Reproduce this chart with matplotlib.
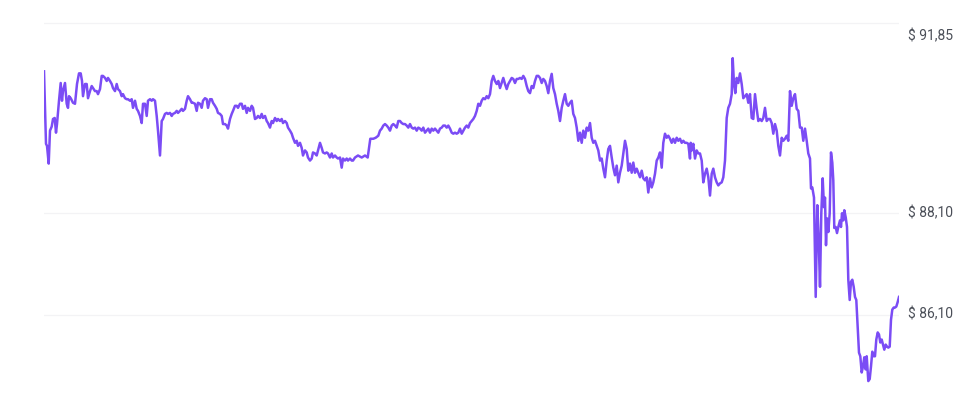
import matplotlib
matplotlib.use("Agg")
import matplotlib.pyplot as plt
import matplotlib.transforms as mtransforms
import numpy as np

# sample times (arbitrary session units) and prices, split into segments
t1 = [0, 2, 3, 4.7, 6, 7.7, 9, 10.7, 12, 13, 15, 16.7, 18, 19, 21, 22.7, 24, 25, 26.7, 28,
      29, 31, 33, 35, 36.7, 38, 39, 41, 42.7, 44, 46, 47.7, 49, 51, 52.7, 54, 56, 57.7, 59, 61,
      62.7, 64, 66, 67.7, 69, 71, 72.7, 74, 76, 77.7, 79, 81, 82.7, 84, 86, 87.7, 89, 91, 92.7, 94,
      96, 97.7, 99]
p1 = [90.90, 89.47, 89.43, 89.08, 89.73, 89.81, 89.96, 89.98, 89.69, 89.86,
      90.32, 90.67, 90.32, 90.51, 90.67, 90.26, 90.18, 90.41, 90.37, 90.32,
      90.28, 90.26, 90.65, 90.86, 90.86, 90.71, 90.41, 90.65, 90.65, 90.37,
      90.51, 90.61, 90.57, 90.51, 90.51, 90.45, 90.55, 90.81, 90.81, 90.77,
      90.71, 90.77, 90.71, 90.65, 90.57, 90.51, 90.65, 90.55, 90.51, 90.41,
      90.45, 90.37, 90.35, 90.35, 90.32, 90.35, 90.18, 90.32, 90.16, 90.12,
      90.02, 89.88, 90.26]

t2 = [101, 102.7, 104, 106, 107.7, 109, 111, 112.7, 114, 116, 117.7, 119, 121, 122.7, 124, 126,
      127.7, 129, 131, 132.7, 134, 136, 137.7, 139, 141, 142.7, 144, 146, 147.7, 149, 151, 152.7,
      154, 156, 157.7, 159, 161, 162.7, 164, 166, 167.7, 169, 171, 172.7, 174, 176, 177.7, 179,
      181, 182.7, 184, 186, 187.7, 189, 191, 192.7, 194, 196, 197.7, 199, 201, 202.7, 204]
p2 = [90.26, 90.02, 90.32, 90.35, 90.32, 90.35, 90.32, 90.02, 89.73, 89.24,
      89.92, 89.96, 90.06, 90.08, 90.06, 90.08, 90.02, 90.06, 90.08, 90.12,
      90.08, 90.12, 90.16, 90.12, 90.16, 90.32, 90.41, 90.35, 90.28, 90.28,
      90.26, 90.12, 90.28, 90.26, 90.18, 90.32, 90.37, 90.35, 90.18, 90.35,
      90.35, 90.28, 90.22, 90.16, 90.08, 90.06, 90.02, 89.86, 89.86, 89.83,
      89.77, 89.96, 90.06, 90.12, 90.22, 90.22, 90.18, 90.26, 90.26, 90.16,
      90.22, 90.08, 90.18]

t3 = [206, 207.7, 209, 211, 212.7, 214, 216, 217.7, 219, 221, 222.7, 224, 226, 227.7, 229, 231,
      232.7, 234, 236, 237.7, 239, 241, 242.7, 244, 246, 247.7, 249, 251, 252.7, 254, 256, 257.7,
      259, 261, 262.7, 264, 266, 267.7, 269, 271, 272.7, 274, 276, 277.7, 279, 281, 282.7, 284,
      286, 287.7, 289, 291, 292.7, 294, 296, 297.7, 299, 301, 302.7, 304, 306, 307.7, 309]
p3 = [90.12, 90.22, 90.18, 89.96, 89.98, 90.02, 89.98, 90.06, 89.98, 90.02,
      89.92, 89.88, 89.79, 89.92, 89.88, 89.98, 89.92, 89.96, 89.92, 89.96,
      89.88, 89.92, 89.88, 89.79, 89.73, 89.67, 89.59, 89.49, 89.53, 89.43,
      89.49, 89.39, 89.24, 89.34, 89.30, 89.20, 89.14, 89.18, 89.30, 89.28,
      89.24, 89.34, 89.49, 89.39, 89.30, 89.28, 89.30, 89.28, 89.20, 89.28,
      89.20, 89.24, 89.20, 89.18, 89.20, 89.00, 89.18, 89.14, 89.18, 89.14,
      89.18, 89.14, 89.14]

t4 = [311, 314, 317.7, 321, 323.7, 325, 326.3, 329.3, 331.7, 334.3, 336, 337.7, 339.3, 341,
      342.7, 344.3, 346, 347.7, 349.3, 351, 352.7, 354.3, 356, 357.7, 359.3, 361, 362.7, 364.3,
      366, 367.7, 369.3, 371, 372.7, 374.3, 376, 377.7, 379.3, 381, 382.7, 384.3, 386, 387.7,
      389.3, 391, 392.7, 394.3, 396, 397.7, 399.3, 401, 402.7, 404.3, 406, 407.7, 409.3, 411,
      412.7, 414.3]
p4 = [89.20, 89.24, 89.20, 89.24, 89.20, 89.39, 89.57, 89.57, 89.59, 89.63,
      89.73, 89.77, 89.83, 89.86, 89.83, 89.79, 89.73, 89.83, 89.86, 89.83,
      89.79, 89.92, 89.92, 89.88, 89.86, 89.86, 89.83, 89.79, 89.86, 89.79,
      89.77, 89.79, 89.73, 89.79, 89.77, 89.73, 89.79, 89.69, 89.73, 89.77,
      89.69, 89.77, 89.73, 89.77, 89.73, 89.69, 89.77, 89.79, 89.83, 89.83,
      89.79, 89.83, 89.77, 89.69, 89.67, 89.69, 89.67, 89.69]

t5 = [416, 417.7, 419.3, 421, 422.7, 424.3, 426, 427.7, 429.3, 431, 432.7, 434.3, 436, 437.7,
      439.3, 441, 442.7, 444.3, 446, 447.7, 449.3, 451, 452.7, 454.3, 456, 457.7, 459.3, 461,
      462.7, 464.3, 466, 467.7, 469.3, 471, 472.7, 474.3, 476, 477.7, 479.3, 481, 482.7, 484.3,
      486, 487.7, 489.3, 491, 492.7, 494.3, 496, 497.7, 499.3, 501, 502.7, 504.3, 506, 507.7,
      509.3, 511, 512.7, 514.3, 516, 517.7, 519.3]
p5 = [89.77, 89.67, 89.73, 89.79, 89.83, 89.79, 89.88, 89.92, 89.96, 90.02,
      90.12, 90.26, 90.22, 90.32, 90.37, 90.35, 90.41, 90.37, 90.45, 90.71,
      90.81, 90.71, 90.65, 90.71, 90.57, 90.67, 90.77, 90.65, 90.55, 90.65,
      90.71, 90.77, 90.75, 90.67, 90.75, 90.75, 90.77, 90.75, 90.81, 90.75,
      90.61, 90.51, 90.47, 90.61, 90.57, 90.71, 90.81, 90.81, 90.77, 90.67,
      90.75, 90.71, 90.61, 90.47, 90.71, 90.85, 90.57, 90.45, 90.26, 90.12,
      89.92, 90.18, 90.32]

t6 = [521, 522.7, 524.3, 526, 527.7, 529.3, 531, 532.7, 534.3, 536, 537.7, 539.3, 541, 542.7,
      544.3, 546, 547.7, 549.3, 551, 552.7, 554.3, 556, 557.7, 559.3, 561, 562.7, 564.3, 566,
      567.7, 569.3, 571, 572.7, 574.3, 576, 577.7, 579.3, 581, 582.7, 584.3, 586, 587.7, 589.3,
      591, 592.7, 594.3, 596, 597.7, 599.3, 601, 602.7, 604.3, 606, 607.7, 609.3, 611, 612.7,
      614.3, 616, 617.7, 619.3, 621, 622.7, 624.3]
p6 = [90.45, 90.26, 90.22, 90.28, 90.32, 90.06, 89.98, 89.79, 89.53, 89.69,
      89.49, 89.73, 89.59, 89.79, 89.73, 89.88, 89.59, 89.49, 89.53, 89.43,
      89.34, 89.14, 89.18, 88.98, 88.81, 89.14, 89.37, 89.43, 89.20, 89.00,
      88.85, 89.04, 88.71, 88.90, 89.04, 89.28, 89.53, 89.37, 88.94, 89.08,
      88.90, 89.10, 88.90, 88.98, 88.90, 88.81, 88.94, 88.79, 88.75, 88.81,
      88.51, 88.79, 88.61, 88.71, 88.88, 89.14, 89.20, 89.30, 89.00, 89.49,
      89.67, 89.59, 89.63]

t7 = [626, 627.7, 629.3, 631, 632.7, 634.3, 636, 637.7, 639.3, 641, 642.7, 644.3, 646, 646.7,
      647.7, 649.3, 651, 652.7, 654.3, 656, 657.7, 659.3, 661, 662.7, 664.3, 666, 667.7, 669.3,
      671, 672.7, 674.3, 676, 677.7, 679.3, 681, 682.7, 684.3, 686, 687.7, 688.7, 690, 691.3,
      692.7, 694.3, 696, 697.7, 699.3, 701, 702.7, 704.3, 706, 707.7, 709.3, 711, 712.7, 714.3,
      716, 717.7, 719.3, 721, 722.7, 724.3, 726, 727.7, 729.3]
p7 = [89.57, 89.49, 89.57, 89.49, 89.59, 89.53, 89.57, 89.49, 89.53, 89.49,
      89.49, 89.47, 89.18, 89.49, 89.34, 89.47, 89.18, 89.34, 89.28, 89.28,
      89.14, 88.71, 88.88, 88.98, 88.81, 88.45, 88.88, 88.98, 88.81, 88.71,
      88.65, 88.69, 88.71, 88.81, 89.14, 89.98, 90.18, 90.26, 90.45, 91.16,
      90.65, 90.47, 90.77, 90.67, 90.86, 90.65, 90.37, 90.41, 90.45, 90.28,
      90.45, 89.98, 89.96, 90.45, 90.16, 89.92, 89.96, 89.92, 89.98, 90.18,
      89.92, 89.96, 89.96, 89.88, 89.67]

t8 = [731, 732.7, 734.3, 736, 737.7, 739.3, 741, 742.7, 744.3, 746, 747.7, 749.3, 751, 752.7,
      754.3, 756, 757.7, 759.3, 761, 762.7, 764.3, 766, 767, 768.3, 770, 771.7, 773.3, 774.7,
      776, 777.3, 778.7, 780, 781, 782, 783, 784.3, 785.7, 787, 788.3, 789.3, 790.3, 791.7,
      793, 794.3, 796, 797, 798, 799.3, 800.3, 801.7, 803, 804.3, 805.7, 807, 808.3, 809.7,
      811, 812.3, 813.7, 815, 816.3, 817.7, 819, 820.3, 821.7, 822.7, 824.3, 825.7, 827, 828.3,
      829.7, 831, 832.3, 833.7, 835, 836.3, 837.7, 839, 840.3, 841.7, 843, 844.3, 845.7, 847,
      848.3, 849.7, 851, 852.3, 853.7, 855]
p8 = [89.86, 89.73, 89.43, 89.24, 89.59, 89.53, 89.57, 89.63, 89.53, 90.51,
      90.22, 90.37, 90.45, 90.16, 90.12, 89.79, 89.79, 89.53, 89.77, 89.53,
      89.28, 89.18, 88.59, 88.61, 88.41, 86.45, 88.26, 87.57, 86.65, 88.10,
      88.79, 88.22, 88.41, 87.47, 88.00, 87.73, 88.10, 89.30, 89.10, 88.75,
      87.81, 87.83, 87.71, 87.83, 87.96, 87.83, 88.10, 87.96, 88.16, 88.02,
      87.83, 86.79, 86.39, 86.75, 86.79, 86.65, 86.45, 86.39, 85.86, 85.35,
      85.28, 84.96, 85.08, 85.26, 85.02, 85.28, 84.79, 84.83, 85.08, 85.37,
      85.28, 85.28, 85.61, 85.75, 85.71, 85.55, 85.61, 85.51, 85.41, 85.51,
      85.47, 85.45, 85.47, 86.00, 86.20, 86.24, 86.24, 86.26, 86.35, 86.45]

tick_values = [91.85, 88.10, 86.10]
tick_labels = ["$ 91,85", "$ 88,10", "$ 86,10"]

t = np.concatenate([t1, t2, t3, t4, t5, t6, t7, t8])
price = np.concatenate([p1, p2, p3, p4, p5, p6, p7, p8])
assert len(t) == len(price), (len(t), len(price))

W, H = 980, 396
fig = plt.figure(figsize=(W / 100, H / 100), dpi=100)
fig.patch.set_facecolor("white")
ax = fig.add_axes([44 / W, 0, 855 / W, 1])
ax.set_xlim(t.min(), t.max())
ax.set_ylim(84.496, 92.307)
ax.axis("off")

for v in tick_values:
    ax.axhline(v, color="#f3f3f5", lw=0.9, zorder=1)

ax.plot(t, price, color="#7b4cf5", lw=1.8, solid_joinstyle="round", zorder=3)

blend = mtransforms.blended_transform_factory(fig.transFigure, ax.transData)
for i, (v, lab) in enumerate(zip(tick_values, tick_labels)):
    tr = blend
    if i == 0:
        tr = blend + mtransforms.ScaledTranslation(0, -13 / 100, fig.dpi_scale_trans)
    fig.text(908 / W, v, lab, transform=tr, ha="left", va="center",
             fontsize=10, family=["Roboto", "DejaVu Sans"], color="#4b4f58")

fig.savefig("out.png", dpi=100, facecolor="white")
